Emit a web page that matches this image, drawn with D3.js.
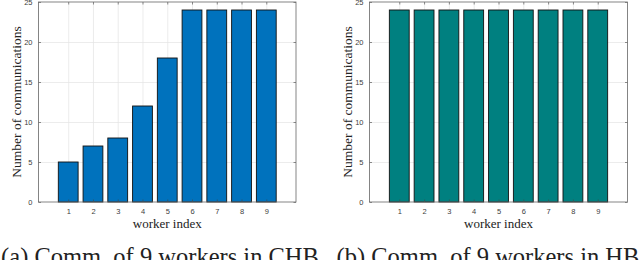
<!DOCTYPE html>
<html lang="en">
  <head>
    <script src="https://d3js.org/d3.v7.min.js"></script>
    <style>
      body { margin: 0; background: #fff; }
      .tick text { font-family: "Liberation Sans", Arial, sans-serif; font-size: 7.5px; fill: #404040; }
      .ax-label, .caption { font-family: "Liberation Serif", "Times New Roman", serif; fill: #222; }
      .grid line { stroke: #e4e4e4; stroke-width: 0.7; }
      .grid .domain { stroke: none; }
    </style>
  </head>
  <body>
    <svg id="chart" width="640" height="260"></svg>
    <script>
      const workers = [1, 2, 3, 4, 5, 6, 7, 8, 9];
      const commCHB = [5, 7, 8, 12, 18, 24, 24, 24, 24];
      const commHB = [24, 24, 24, 24, 24, 24, 24, 24, 24];
      const yTicks = [0, 5, 10, 15, 20, 25];
      const captions = ["(a) Comm. of 9 workers in CHB", "(b) Comm. of 9 workers in HB"];

      const svg = d3.select("#chart");
      const plotTop = 2, plotBottom = 202;

      function drawPanel(left, right, values, color, caption, captionX) {
        const g = svg.append("g");
        const x = d3.scaleLinear().domain([-0.2, 10.2]).range([left, right]);
        const y = d3.scaleLinear().domain([0, 25]).range([plotBottom, plotTop]);
        const bw = x(0.8) - x(0);

        // grid
        g.append("g")
          .attr("class", "grid")
          .attr("transform", `translate(${left},0)`)
          .call(d3.axisLeft(y).tickValues(yTicks.slice(1, -1)).tickSize(-(right - left)).tickFormat(""));
        g.append("g")
          .attr("class", "grid")
          .attr("transform", `translate(0,${plotBottom})`)
          .call(d3.axisBottom(x).tickValues(workers).tickSize(-(plotBottom - plotTop)).tickFormat(""));

        // bars
        g.selectAll("rect.bar")
          .data(values)
          .enter()
          .append("rect")
          .attr("class", "bar")
          .attr("x", (d, i) => x(workers[i]) - bw / 2)
          .attr("y", (d) => y(d))
          .attr("width", bw)
          .attr("height", (d) => y(0) - y(d))
          .attr("fill", color)
          .attr("stroke", "#111")
          .attr("stroke-width", 0.9);

        // axes (ticks inside)
        g.append("g")
          .attr("class", "axis")
          .attr("transform", `translate(${left},0)`)
          .call(d3.axisLeft(y).tickValues(yTicks).tickSize(-2.5).tickPadding(6));
        g.append("g")
          .attr("class", "axis")
          .attr("transform", `translate(0,${plotBottom})`)
          .call(d3.axisBottom(x).tickValues(workers).tickSize(-2.5).tickPadding(7));
        g.append("g")
          .attr("class", "axis")
          .attr("transform", `translate(${right},0)`)
          .call(d3.axisRight(y).tickValues(yTicks).tickSize(-2.5).tickFormat(""));
        g.append("g")
          .attr("class", "axis")
          .attr("transform", `translate(0,${plotTop})`)
          .call(d3.axisTop(x).tickValues(workers).tickSize(-2.5).tickFormat(""));
        g.selectAll(".domain").attr("stroke", "none");
        g.selectAll(".axis .tick line").attr("stroke", "#444").attr("stroke-width", 0.6);

        // box
        g.append("rect")
          .attr("x", left)
          .attr("y", plotTop)
          .attr("width", right - left)
          .attr("height", plotBottom - plotTop)
          .attr("fill", "none")
          .attr("stroke", "#666")
          .attr("stroke-width", 0.8);

        g.append("text")
          .attr("class", "ax-label")
          .attr("text-anchor", "middle")
          .attr("font-size", 13.5)
          .attr("transform", `translate(${left - 18},${(plotTop + plotBottom) / 2}) rotate(-90)`)
          .text("Number of communications");

        g.append("text")
          .attr("class", "ax-label")
          .attr("text-anchor", "middle")
          .attr("font-size", 13)
          .attr("x", (left + right) / 2)
          .attr("y", 228)
          .text("worker index");

        g.append("text")
          .attr("class", "caption")
          .attr("text-anchor", "middle")
          .attr("font-size", 24.5)
          .attr("x", captionX)
          .attr("y", 265)
          .text(caption);
      }

      drawPanel(38.5, 296, commCHB, "#0072BD", captions[0], 160);
      drawPanel(369.5, 627.5, commHB, "#008080", captions[1], 488);
    </script>
  </body>
</html>
